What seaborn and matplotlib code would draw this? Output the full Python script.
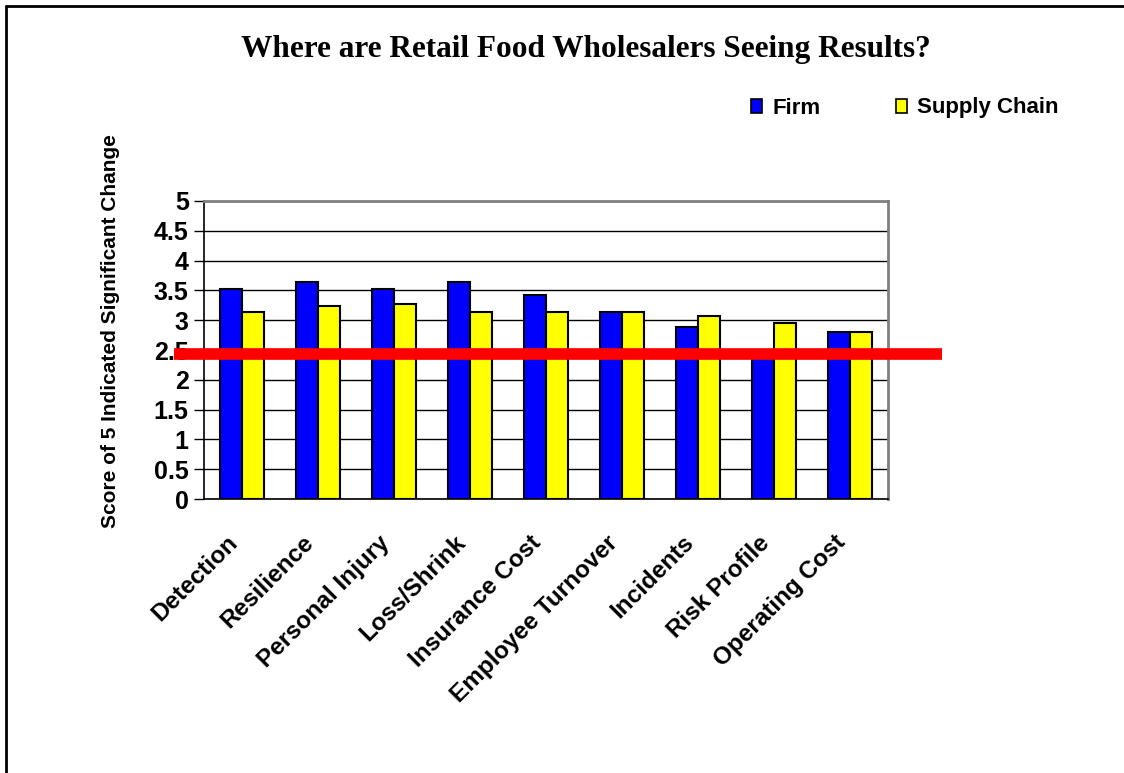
import matplotlib
matplotlib.use("Agg")
import matplotlib.pyplot as plt
import matplotlib.transforms as mtransforms
from matplotlib.lines import Line2D
from matplotlib.patches import Patch
import seaborn as sns
import pandas as pd
import numpy as np

categories = ["Detection", "Resilience", "Personal Injury", "Loss/Shrink",
              "Insurance Cost", "Employee Turnover", "Incidents",
              "Risk Profile", "Operating Cost"]
firm = [3.52, 3.64, 3.52, 3.64, 3.42, 3.13, 2.89, 2.45, 2.80]
supply_chain = [3.13, 3.24, 3.28, 3.13, 3.13, 3.13, 3.07, 2.95, 2.80]
series_names = ["Firm", "Supply Chain"]
threshold = 2.44
y_ticks = [0, 0.5, 1, 1.5, 2, 2.5, 3, 3.5, 4, 4.5, 5]
y_tick_labels = ["0", "0.5", "1", "1.5", "2", "2.5", "3", "3.5", "4", "4.5", "5"]

df = pd.DataFrame({
    "Category": categories * 2,
    "Series": [series_names[0]] * len(categories) + [series_names[1]] * len(categories),
    "Score": firm + supply_chain,
})

sns.set_theme(style="white")
plt.rcParams["font.family"] = ["Liberation Sans", "DejaVu Sans"]
plt.rcParams["text.color"] = "black"
plt.rcParams["axes.labelcolor"] = "black"
plt.rcParams["xtick.color"] = "black"
plt.rcParams["ytick.color"] = "black"

fig = plt.figure(figsize=(11.24, 7.73), dpi=100)
ax = fig.add_axes([204 / 1124, 1 - 499 / 773, (888 - 204) / 1124, (499 - 201) / 773])

palette = {"Firm": "#0000FF", "Supply Chain": "#FFFF00"}
sns.barplot(data=df, x="Category", y="Score", hue="Series", order=categories,
            hue_order=series_names, palette=palette, width=0.57, gap=0,
            edgecolor="black", linewidth=1.5, saturation=1, ax=ax,
            legend=False, zorder=3)

ax.set_ylim(0, 5)
ax.set_xlim(-0.5, len(categories) - 0.5)
ax.set_yticks(y_ticks)
ax.set_yticklabels(y_tick_labels, fontsize=18, fontweight="bold")
ax.yaxis.grid(True, color="black", linewidth=1.0, zorder=0)
ax.set_axisbelow(True)

# x ticks: marks at category boundaries, labels at centers
ax.set_xticks(range(len(categories)))
ax.set_xticklabels(categories, fontsize=17.5, fontweight="bold", rotation=45,
                   ha="right", va="center", rotation_mode="anchor")
ax.set_xticks(np.arange(-0.5, len(categories)), minor=True)
ax.tick_params(axis="x", which="major", length=0, pad=29)
ax.tick_params(axis="x", which="minor", length=8, width=1, color="black", direction="out")
ax.tick_params(axis="y", which="major", length=7, width=1, color="black",
               direction="out", left=True, pad=4)
shift = mtransforms.ScaledTranslation(-8 / 100, 0, fig.dpi_scale_trans)
for lbl in ax.get_xticklabels():
    lbl.set_transform(lbl.get_transform() + shift)
ax.set_xlabel("")
ax.set_ylabel("Score of 5 Indicated Significant Change", fontsize=15,
              fontweight="bold")
ax.yaxis.set_label_coords(-0.123, 0.565)

for side in ["left", "bottom"]:
    ax.spines[side].set_color("black")
    ax.spines[side].set_linewidth(1.2)
for side in ["top", "right"]:
    ax.spines[side].set_visible(True)
    ax.spines[side].set_color("#808080")
    ax.spines[side].set_linewidth(2)

# red reference line extending beyond the plot area
trans = mtransforms.blended_transform_factory(ax.transAxes, ax.transData)
ax.add_line(Line2D([(174 - 204) / 684, (942 - 204) / 684], [threshold, threshold],
                   transform=trans, color="#FF0000", linewidth=8.4,
                   solid_capstyle="butt", clip_on=False, zorder=5))

# title
fig.text(586 / 1124, 1 - 50 / 773, "Where are Retail Food Wholesalers Seeing Results?",
         ha="center", va="center", fontsize=22.5, fontweight="bold",
         family=["Liberation Serif", "DejaVu Serif"])

# legend
handles = [Patch(facecolor=palette[s], edgecolor="black", linewidth=1.2) for s in series_names]
fig.legend(handles, series_names, loc="center left",
           bbox_to_anchor=(742 / 1124, 1 - 108 / 773), ncol=2, frameon=False,
           prop={"size": 16, "weight": "bold"}, handlelength=0.5, handleheight=0.6,
           handletextpad=0.45, columnspacing=3.4, borderaxespad=0)

# figure border (left and top visible)
fig.add_artist(Line2D([6 / 1124, 6 / 1124], [-0.01, 1 - 6 / 773],
                      transform=fig.transFigure, color="black", linewidth=2))
fig.add_artist(Line2D([6 / 1124, 1.01], [1 - 6 / 773, 1 - 6 / 773],
                      transform=fig.transFigure, color="black", linewidth=2))

fig.savefig("out.png", dpi=100, facecolor="white")
